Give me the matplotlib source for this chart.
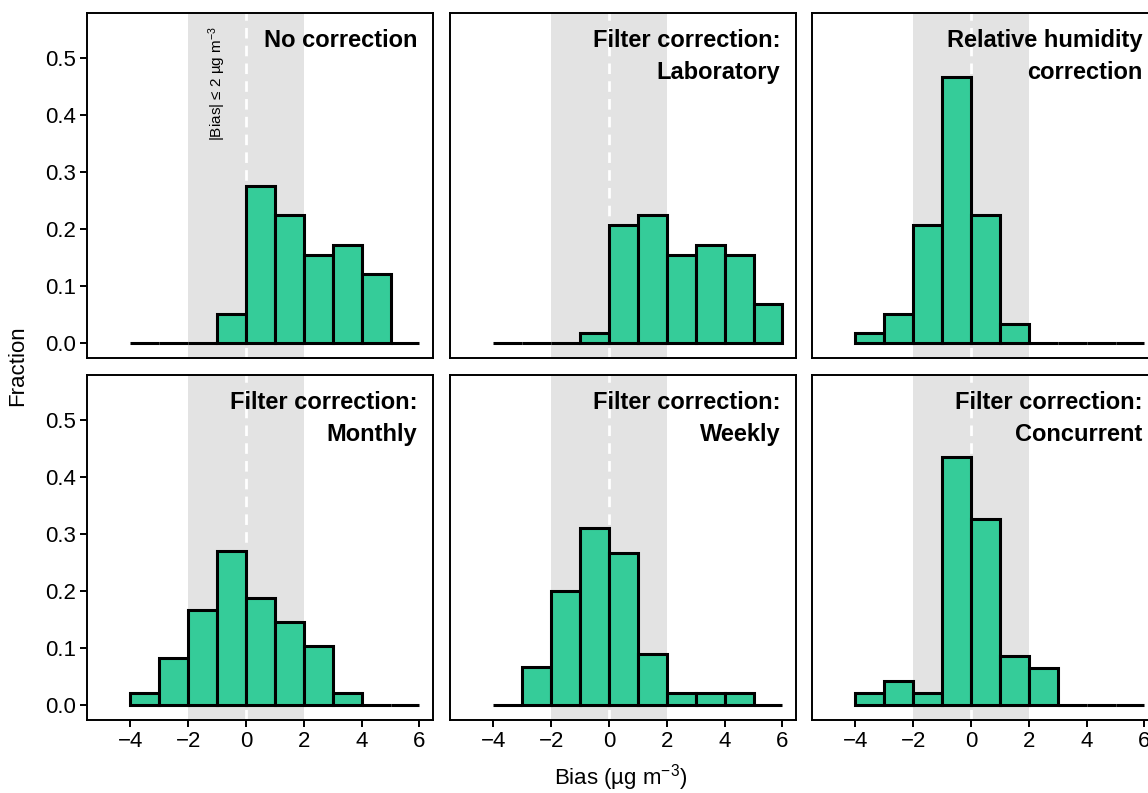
import matplotlib
matplotlib.use("Agg")
import matplotlib.pyplot as plt

plt.rcParams["font.family"] = ["Liberation Sans", "DejaVu Sans"]
plt.rcParams["mathtext.fontset"] = "custom"
plt.rcParams["mathtext.rm"] = "Liberation Sans"
plt.rcParams["mathtext.it"] = "Liberation Sans:italic"
plt.rcParams["mathtext.bf"] = "Liberation Sans:bold"

# Histogram bin edges (µg m-3) and fraction of sites per bin
bin_edges = [-4, -3, -2, -1, 0, 1, 2, 3, 4, 5, 6]

panel_titles = [
    "No correction",
    "Filter correction:\nLaboratory",
    "Relative humidity\ncorrection",
    "Filter correction:\nMonthly",
    "Filter correction:\nWeekly",
    "Filter correction:\nConcurrent",
]

frac_none = [0.0, 0.0, 0.0, 0.052, 0.276, 0.224, 0.155, 0.172, 0.121, 0.0]
frac_laboratory = [0.0, 0.0, 0.0, 0.017, 0.207, 0.224, 0.155, 0.172, 0.155, 0.069]
frac_humidity = [0.017, 0.052, 0.207, 0.466, 0.224, 0.034, 0.0, 0.0, 0.0, 0.0]
frac_monthly = [0.021, 0.083, 0.167, 0.271, 0.188, 0.146, 0.104, 0.021, 0.0, 0.0]
frac_weekly = [0.0, 0.067, 0.200, 0.311, 0.267, 0.089, 0.022, 0.022, 0.022, 0.0]
frac_concurrent = [0.022, 0.043, 0.022, 0.435, 0.326, 0.087, 0.065, 0.0, 0.0, 0.0]

panel_fractions = [frac_none, frac_laboratory, frac_humidity,
                   frac_monthly, frac_weekly, frac_concurrent]

y_ticks = [0.0, 0.1, 0.2, 0.3, 0.4, 0.5]
x_ticks = [-4, -2, 0, 2, 4, 6]

FILL = "#35CC99"
BAND = "#E3E3E3"

W, H = 1148, 793
fig = plt.figure(figsize=(W / 100, H / 100), dpi=100)

col_left = [87, 450, 812]
row_top = [13, 375]
pw, ph = 346, 345

for i, (title, fracs) in enumerate(zip(panel_titles, panel_fractions)):
    r, c = divmod(i, 3)
    ax = fig.add_axes([col_left[c] / W, 1 - (row_top[r] + ph) / H, pw / W, ph / H])
    ax.set_xlim(-5.5, 6.47)
    ax.set_ylim(-0.026, 0.579)

    ax.axvspan(-2, 2, color=BAND, lw=0, zorder=0)
    ax.axvline(0, color="white", lw=2.0, ls=(0, (3.8, 2.6)), zorder=1)
    ax.bar(bin_edges[:-1], fracs, width=1, align="edge", color=FILL,
           edgecolor="black", linewidth=2.2, zorder=2)

    ax.text(0.955, 0.955, title, transform=ax.transAxes, ha="right", va="top",
            fontsize=17, fontweight="bold", linespacing=1.5, zorder=3)

    if i == 0:
        ax.text(-1.0, 0.556, "|Bias| ≤ 2 µg m$^{-3}$", rotation=90,
                ha="center", va="top", fontsize=11, zorder=3)

    for s in ax.spines.values():
        s.set_linewidth(1.4)
        s.set_color("black")

    ax.set_yticks(y_ticks)
    ax.set_xticks(x_ticks)
    ax.tick_params(axis="both", length=5, width=1.4, color="black",
                   labelsize=16, pad=3)
    if c == 0:
        ax.set_yticklabels([f"{v:.1f}" for v in y_ticks])
    else:
        ax.tick_params(axis="y", left=False, labelleft=False)
    if r == 1:
        ax.set_xticklabels([f"{v}".replace("-", "\u2212") for v in x_ticks])
    else:
        ax.tick_params(axis="x", bottom=False, labelbottom=False)

fig.text(18 / W, 1 - 366 / H, "Fraction", rotation=90, ha="center", va="center",
         fontsize=16)
fig.text(621 / W, 1 - 778 / H, "Bias (µg m$^{-3}$)", ha="center", va="center",
         fontsize=16)

fig.savefig("out.png", dpi=100)
